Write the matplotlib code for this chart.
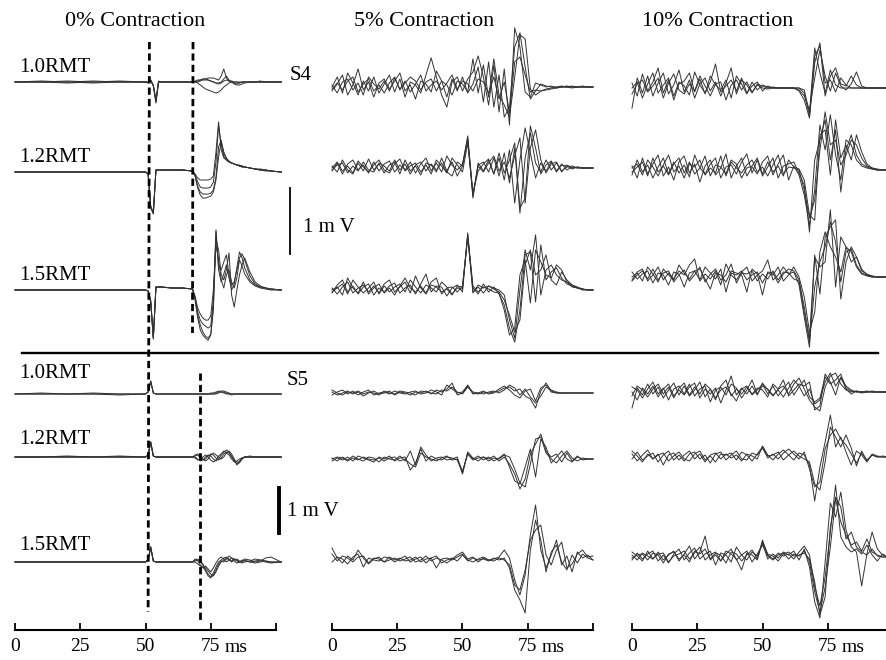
"""MEP traces at rest and under 5% / 10% contraction, subjects S4 and S5."""

import matplotlib.pyplot as plt
import numpy as np
from matplotlib.lines import Line2D

plt.rcParams["font.family"] = ["Liberation Serif", "DejaVu Serif"]

# ---------------------------------------------------------------- data
# amplitudes are in digitiser steps (S4: 15.2 uV, S5: 22.2 uV per step)
STEP_UV = {"S4": 15.2, "S5": 22.2}

# rest (0% contraction) sweeps are stored at irregular knots (ms)
T_REST = [0, 10, 20, 30, 40, 50, 51, 52, 53, 54, 55, 56, 60, 64, 68,
          69, 70, 71, 72, 73, 74, 75, 76, 77, 78, 79, 80, 81, 82, 83, 84, 85, 86, 87, 88,
          90, 92, 94, 96, 98, 102]
# contraction sweeps are sampled every 2 ms from 0 to 100 ms
T_ACTIVE = np.arange(0, 101, 2)

STIMULI = ["1.0RMT", "1.2RMT", "1.5RMT"]
CONDITIONS = ["0% Contraction", "5% Contraction", "10% Contraction"]

s4_rest_10 = [
    [0, 1, 0, -1, 0, 0, -1, 2, -4, -21, 0, 0, 0, 0, 0, 0, 1, 2, 3, 3, 4, 4, 4, 3, 2, 6, 13, 4, 1, 1, 0, 0, -1, 0, 0, 0, 0, 1, 0, 0, 0],
    [0, 0, 1, 0, 0, 0, 0, 1, -3, -19, 0, 0, 0, 0, 0, 0, -1, -3, -5, -7, -8, -9, -10, -11, -10, -8, -5, -3, -1, 0, 0, 0, 0, 0, 0, 0, 0, 0, 0, 0, 0],
    [0, 0, -1, 0, 1, 0, 0, 1, -3, -20, 0, 0, 0, 0, 0, 1, 2, 2, 3, 3, 2, 1, 0, -1, -2, -1, 1, 2, 1, 0, -2, -3, -3, -2, -1, 0, 0, 0, 0, 0, 0],
    [0, 0, 0, 1, 0, 0, -1, 2, -4, -18, 1, 0, 0, 0, 0, 0, 0, 1, 2, 2, 2, 1, 0, -1, -1, 0, 3, 6, 2, 0, -1, -2, -1, 0, 0, 0, 0, 0, 0, 0, 0],
]
s4_rest_12 = [
    [0, 0, 0, 0, 0, 0, -2, -35, -41, 2, 2, 2, 2, 2, 1, -2, -6, -8, -8, -8, -8, -7, -4, 20, 50, 22, 14, 12, 10, 9, 8, 7, 6, 6, 5, 4, 3, 2, 2, 1, 0],
    [0, 0, 0, 0, 0, 0, -2, -34, -40, 2, 2, 2, 2, 2, 1, -3, -10, -15, -16, -16, -16, -15, -10, 10, 46, 28, 15, 12, 10, 9, 8, 7, 7, 6, 5, 4, 3, 3, 2, 1, 0],
    [0, 0, 0, 0, 0, 0, -2, -36, -41, 2, 2, 2, 2, 2, 1, -4, -14, -20, -22, -22, -22, -21, -18, -5, 25, 32, 18, 13, 10, 9, 8, 7, 6, 5, 5, 4, 3, 2, 2, 1, 0],
    [0, 0, 0, 0, 0, 0, -2, -35, -42, 2, 2, 2, 2, 2, 1, -4, -16, -23, -26, -26, -25, -24, -20, -8, 15, 30, 20, 14, 11, 9, 8, 7, 6, 5, 5, 4, 3, 2, 1, 1, 0],
]
s4_rest_15 = [
    [0, 0, 0, 0, 0, 0, -1, -12, -48, 3, 3, 3, 2, 2, 1, -8, -22, -30, -34, -36, -38, -36, -10, 60, 25, 20, 28, 35, 15, 5, 8, 20, 32, 36, 30, 14, 6, 3, 2, 1, 0],
    [0, 0, 0, 0, 0, 0, -1, -10, -47, 3, 3, 3, 2, 2, 1, -10, -28, -40, -45, -48, -50, -45, -20, 50, 40, 15, 10, 20, 37, -5, -17, 0, 15, 25, 32, 18, 8, 4, 2, 1, 0],
    [0, 0, 0, 0, 0, 0, -1, -11, -48, 3, 3, 3, 2, 2, 1, -6, -18, -24, -28, -30, -30, -26, 0, 45, 30, 10, 2, 15, 20, 8, 2, 12, 30, 24, 16, 8, 4, 2, 1, 0, 0],
    [0, 0, 0, 0, 0, 0, -1, -12, -49, 3, 3, 3, 2, 2, 1, -9, -25, -35, -42, -46, -48, -44, -15, 58, 20, 8, 16, 25, 12, 0, 6, 22, 38, 32, 22, 10, 5, 3, 2, 1, 0],
]
s5_rest_10 = [
    [0, 0, 0, 0, 0, 0, 2, 13, 1, 0, 0, 0, 0, 0, 0, 0, 0, 0, 0, 0, 0, 0, 0, 1, 2, 3, 3, 2, 1, 0, 0, 0, 0, 0, 0, 0, 0, 0, 0, 0, 0],
    [0, 1, 0, 0, -1, 0, 2, 13, 1, 0, 0, 0, 0, 0, 0, 0, 0, 0, 0, 0, 0, 1, 1, 2, 3, 2, 1, 0, 0, -1, 0, 0, 0, 0, 0, 0, 0, 0, 0, 0, 0],
    [0, 0, 0, 1, 0, 0, 2, 12, 1, 0, 0, 0, 0, 0, 0, 0, 0, 0, 0, 0, 0, 0, 0, 0, 1, 2, 2, 1, 0, 0, 0, 0, 0, 0, 0, 0, 0, 0, 0, 0, 0],
]
s5_rest_12 = [
    [0, 0, 0, 0, 0, 0, 2, 15, 1, 0, 0, 0, 0, 0, 0, 1, 2, -1, -3, -2, 1, 3, 2, -1, -3, -1, 3, 5, 4, 1, -4, -7, -4, -1, 0, 0, 0, 0, 0, 0, 0],
    [0, 0, 1, 0, 0, 0, 2, 15, 1, 0, 0, 0, 0, 0, 0, 0, -2, -4, -3, 0, 2, 1, -2, -4, -2, 2, 5, 7, 5, 0, -3, -5, -6, -2, 0, 1, 0, 0, 0, 0, 0],
    [0, 0, 0, 0, 0, 0, 2, 14, 1, 0, 0, 0, 0, 0, 0, 2, 3, 1, -2, -4, -2, 2, 4, 2, 0, -2, 0, 4, 6, 3, -2, -8, -5, -2, 0, 0, 0, 0, 0, 0, 0],
    [0, 0, 0, 0, 1, 0, 2, 15, 1, 0, 0, 0, 0, 0, 0, -1, -3, -2, 0, 2, 0, -3, -5, -3, 1, 3, 6, 4, 2, -2, -5, -4, -2, -1, 0, 0, 0, 0, 0, 0, 0],
]
s5_rest_15 = [
    [0, 0, 0, 0, 0, 0, 2, 15, 1, 0, 0, 0, 0, 0, 0, 1, 2, 0, -3, -6, -9, -12, -14, -10, -4, 0, 2, 4, 2, 0, 2, 3, 1, 0, 2, 0, 1, 2, 0, -1, 0],
    [0, 0, 0, 0, 0, 0, 2, 15, 1, 0, 0, 0, 0, 0, 0, 2, 3, 1, -2, -8, -12, -15, -11, -5, 0, 2, 4, 5, 3, 1, 3, 2, 0, -1, 0, 1, 3, 2, 1, 0, 0],
    [0, 0, 0, 0, 0, 0, 2, 14, 1, 0, 0, 0, 0, 0, 0, 0, -2, -4, -6, -4, -7, -10, -6, -1, 3, 5, 3, 0, 2, 4, 3, 1, 0, 1, 3, 2, 0, 1, 4, 5, 0],
    [0, 0, 0, 0, 0, 0, 2, 15, 1, 0, 0, 0, 0, 0, 0, 3, 1, -3, -5, -9, -14, -16, -13, -8, -2, 1, 0, 3, 6, 4, 1, -1, 0, 2, 1, 0, -1, 0, 1, 0, 0],
]

s4_c5_10 = [
    [0, 10, -6, 14, 4, -8, 6, -4, 10, -6, 3, 12, -5, 8, -10, 5, 2, -6, 12, 29, 10, -8, -20, 5, 10, -4, 8, 15, 31, 10, -18, 22, -25, 18, -38, 59, 40, -5, -10, 4, 2, 0, 1, -1, 0, 1, 0, 0, 1, 0, 0],
    [-4, 3, 12, -8, 2, 18, -3, 5, -10, 4, 8, -2, 6, 14, -4, 2, -12, 6, 3, -5, 16, 6, -10, 8, -4, 10, -6, 3, 20, -15, 25, -20, 12, -30, -20, 40, 54, 20, -12, -4, 3, 1, 0, 0, 1, 0, -1, 0, 0, 0, 0],
    [2, -6, 5, 8, -3, 4, -8, 10, 3, -2, 6, -4, 9, -2, 4, 10, 6, -3, 5, 8, -4, 6, 2, -8, 6, 3, -5, 28, -6, 22, -10, 28, -8, -18, -30, 10, 52, 48, -2, -8, -4, -3, -2, -1, 0, 0, 1, 0, 0, 0, 0],
    [-2, 4, -3, 6, 10, -5, 3, 8, -4, 2, -6, 4, 10, -3, 6, -5, 3, 12, -4, 2, 6, -3, 4, 12, -2, 6, 3, -4, 8, 5, -6, 10, -12, 5, -26, 25, 30, 12, -5, -3, -4, -2, -1, 0, 0, 0, 0, 0, 0, 0, 0],
]
s4_c5_12 = [
    [-3, 5, -6, 4, 8, -2, 3, -5, 6, -3, 4, 7, -4, 3, -2, 6, -5, 4, 10, -3, 5, -4, 12, 3, -2, 4, 30, -30, 5, -3, 8, -6, 10, -12, 18, -35, 8, 40, 15, -10, 5, -3, 6, -4, 3, 2, -1, 1, 0, 0, 0],
    [2, -4, 8, -2, -6, 5, -3, 9, -2, 4, -5, 3, 6, -6, 8, -3, 2, -7, 5, 3, -4, 10, -3, 6, -8, 2, 28, -28, 3, 6, -4, 10, -8, 15, -15, 20, -45, 10, 35, 5, -4, 8, -2, 5, -3, 1, 2, 0, 0, 0, 0],
    [0, 6, -3, 2, -5, 7, 1, -4, 3, 8, -2, -5, 4, 9, -3, 2, 5, -4, 3, -6, 8, 2, -5, 10, 3, -4, 25, -25, -3, 4, 9, -6, 15, -5, 8, 25, -40, -30, 42, 20, -6, 3, 7, -3, 4, -2, 1, 0, 0, 0, 0],
    [-2, 3, 5, -5, 2, -3, 6, -2, -4, 5, 2, -3, 8, -2, 4, -6, 3, 6, -3, 4, -2, 5, -4, -8, 6, 2, 32, -26, 2, -4, 5, 12, -3, 6, -10, 12, 30, -35, 20, 38, 8, -5, 4, 6, -4, 3, 0, 1, 0, 0, 0],
]
s4_c5_15 = [
    [2, -4, 3, 8, -3, 2, 5, -2, 4, -3, 6, 10, -2, 3, 8, -3, 14, 2, -4, 5, 3, -2, 1, -5, 4, 3, 55, -3, 5, 2, 4, 2, 0, -5, -30, -48, 0, 40, 20, 55, -5, 20, 25, 15, 10, 8, 5, 3, 1, 0, 0],
    [-3, 5, 10, -2, 4, -4, 3, 6, -5, 2, -2, 4, 7, -3, 2, 5, -4, 6, 16, -2, 4, 3, -6, 2, 5, -2, 57, 2, -4, 6, -2, 3, -4, -15, -38, -52, -20, 35, 38, -12, 45, 10, 18, 22, 12, 6, 4, 2, 1, 0, 0],
    [0, 3, -5, 12, 2, -3, 8, -4, 2, 6, -3, 2, -5, 4, 12, 2, -2, 4, -3, 8, 12, -4, 2, 3, -2, 4, 52, 4, -2, 3, 1, -2, -3, -20, -45, -38, 15, 30, -13, 40, 28, 15, 12, 25, 20, 8, 3, 2, 0, 0, 0],
    [-2, 2, 6, -4, 10, 3, -3, 2, 8, -4, 4, -2, 3, 6, -2, 10, 3, -3, 5, 2, -2, 8, 3, -4, 2, 1, 54, -2, 3, -3, 4, 1, -2, -10, -25, -42, -30, 25, 40, 15, 20, 35, 10, 5, 18, 10, 5, 2, 1, 0, 0],
]
s4_c10_10 = [
    [-20, 10, -5, 12, -8, 5, 15, -6, 3, 18, -4, 8, -10, 4, 10, -3, 6, -8, 5, 20, -6, 8, 3, -5, 4, 2, 0, 1, 0, 0, 0, 0, 0, -2, -25, 40, 15, -5, 18, 3, 0, 0, 0, 0, 0, 0, 0, 0, 0, 0, 0],
    [5, -8, 14, -3, 6, 20, -5, 8, -12, 4, 7, 15, -4, 9, -6, 12, 3, -2, 8, -10, 12, 4, -6, 6, -2, 3, 1, 0, 0, 0, 0, 0, -3, -12, -30, 25, 45, -8, 12, 20, 4, 2, 12, 3, 0, 0, 0, 0, 0, 0, 0],
    [0, 6, -10, 4, 15, -5, 3, 10, -8, 6, 2, -7, 16, 3, -5, 6, 24, -4, 2, 8, -3, 10, -5, 2, 6, -3, 2, 0, 0, 0, 0, 0, -2, -8, -22, 10, 38, 12, -3, 15, 2, -2, 4, 16, 2, 0, 0, 0, 0, 0, 0],
    [-6, 4, 8, -4, 2, 10, -10, 5, 14, -2, -6, 4, -3, 12, 2, -8, 4, 6, -12, 3, 8, -2, 6, -4, 3, 0, -1, 0, 0, 0, 0, 0, 0, -5, -28, 32, 42, 5, 8, -4, 10, 3, 0, 0, 0, 0, 0, 0, 0, 0, 0],
]
s4_c10_12 = [
    [4, -8, 12, -4, 6, 15, -6, 3, -10, 8, 14, -3, 6, -12, 4, 10, -5, 2, 16, -8, 4, 12, -6, 3, -4, 8, 14, -5, 6, 15, -10, 4, -5, -25, -55, -20, 45, 20, 55, 15, -10, 30, 25, 10, 4, 2, 1, 0, 0, 0, 0],
    [-5, 10, -2, 5, -8, 3, 12, -4, 8, -3, 5, -7, 15, 2, -4, 6, 12, -8, 3, 5, -4, 8, 16, -3, 10, -6, 3, 12, -8, 4, 6, 8, -3, -15, -62, 10, 30, 50, 10, 40, -22, 20, 35, 15, 6, 3, 1, 0, 0, 0, 0],
    [2, 6, -5, 10, 3, -6, 5, 15, -2, 4, -8, 6, 3, 10, -5, 2, -3, 14, -6, 8, 2, -3, 5, 10, -2, 3, -6, 5, 15, -4, 3, 2, 0, -20, -48, -30, 20, 58, 25, 30, 5, 15, 30, 25, 12, 4, 2, 0, 0, 0, 0],
    [-2, 3, 8, -6, 12, -2, 4, -5, 6, 12, -3, 8, -4, 2, 14, -6, 5, 3, -4, 10, 6, -8, 2, 4, 12, -4, 8, -2, 4, -6, 10, 3, 1, -10, -45, -50, 35, 40, -5, 50, 12, 25, 10, 35, 18, 6, 2, 1, 0, 0, 0],
]
s4_c10_15 = [
    [-3, 5, 8, -4, 2, 10, -3, 4, -2, 6, 2, 12, 18, -4, 3, -2, 6, -8, 13, 2, -3, 5, 10, -4, 2, 6, 17, -3, 2, 10, 3, 5, -8, -40, -70, 20, 10, 15, 67, -10, 40, 30, 25, 10, 3, 1, 0, 0, 0, 0, 0],
    [5, -2, 3, 6, -6, 4, 2, -8, 5, 3, -10, 4, 6, 8, -2, -12, 4, 2, -5, 6, 4, 2, -15, 8, 3, -18, 5, 4, -6, 3, 8, 6, -3, -30, -62, 22, -17, 40, 50, 57, -22, 15, 30, 20, 8, 2, 1, 0, 0, 0, 0],
    [0, 4, -4, 10, 3, -5, 8, 2, -3, 12, 4, -2, 6, -3, 10, 4, -2, 8, -15, 4, 2, 6, -3, 2, 5, -6, 4, 2, 10, -4, 2, 10, 0, -20, -55, -35, 25, 45, 30, 20, 5, 30, 15, 20, 6, 3, 1, 0, 0, 0, 0],
    [-4, 2, 6, -2, 8, -3, 4, 6, -5, 2, 7, -4, 2, 10, -5, 3, 8, -3, 2, 13, -6, 4, 3, 6, -4, 3, -2, 6, -3, 5, 4, -2, -4, -35, -65, -10, 15, 30, 55, 35, -5, 25, 28, 12, 4, 2, 0, 0, 0, 0, 0],
]

s5_c5_10 = [
    [-2, 1, 3, -1, 2, -2, 1, 3, -2, 0, 1, -1, 2, 0, -1, 1, 2, -1, 0, 3, 1, -2, 8, 4, 0, 1, 8, 0, -1, 1, 0, 1, 2, 5, 6, 2, 4, -3, -6, -15, 2, 10, 2, 0, 0, 0, 0, 0, 0, 0, 0],
    [1, -2, 0, 2, -1, 1, -3, 0, 2, -1, 0, 2, -2, 1, 0, -2, 1, 0, 2, -1, 3, 1, 4, 10, -2, 0, 7, -1, 0, 2, -1, 0, 4, 7, 3, -2, -5, 2, 4, -8, 5, 8, 1, 0, 0, 0, 0, 0, 0, 0, 0],
    [3, 0, -2, 1, 0, 2, -1, 1, 0, -2, 2, 0, -1, 2, 1, 0, -2, 2, 1, 0, -1, 3, 2, 6, 1, -1, 6, 1, 0, -1, 1, 2, 0, 3, 8, 5, -2, 4, -4, -10, -3, 6, 3, 1, 0, 0, 0, 0, 0, 0, 0],
]
s5_c5_12 = [
    [1, -2, 2, -1, 3, 0, -2, 2, 1, -3, 2, 0, -1, 3, -2, 8, -6, 12, 4, -2, 1, 2, -1, 0, 2, -15, 7, 1, -2, 2, 0, 3, -2, 2, -5, -15, -30, -20, 5, 15, 25, 8, 2, 5, -3, 6, -2, 3, -1, 0, 0],
    [-2, 1, -1, 2, -2, 3, 1, -1, -3, 2, 0, 3, -2, 1, 2, -11, -4, 10, -2, 3, 0, -1, 2, 1, -1, -14, 6, 0, 3, -1, 2, -2, 1, 5, -8, -22, -25, -8, 10, -18, 20, 12, -4, 2, 8, 0, -3, 2, 0, 0, 0],
    [0, 2, 1, -2, 1, -1, 2, 0, -1, 1, -2, 1, 2, -2, 0, -5, -8, 6, 2, 0, -2, 1, 3, -1, 0, -12, 5, -1, 1, 2, -2, 1, 0, 4, 2, -10, -24, -28, -5, 20, 22, 6, 0, -4, 3, 8, 1, -2, 1, 0, 0],
]
s5_c5_15 = [
    [12, 2, -3, 4, 0, 10, 2, -4, 1, 3, -2, 0, 2, -1, 1, 3, -2, 0, 4, -1, 2, 0, -3, 1, 5, 8, 1, 3, -2, 2, 0, 1, 3, 10, 2, -20, -35, -15, 25, 55, 10, -8, 5, 20, -5, 4, -12, 8, 2, 5, 0],
    [-2, 3, 1, -4, 3, 6, -7, 2, 0, -1, 3, 2, -2, 1, 4, -2, 1, 3, -3, 2, -8, 1, 2, 0, 3, 6, -1, 2, 0, 1, -1, 2, 0, 2, -8, -30, -40, -53, 10, 40, 20, -12, 8, 15, -2, -10, 5, -3, 6, 2, 0],
    [6, -1, 4, 2, -2, 3, 4, -3, 2, 1, -2, 3, 0, 2, -1, 0, 3, -2, 1, 2, 4, -3, 0, 2, -1, 5, 0, -2, 1, 3, 0, -1, 2, 0, -5, -25, -30, -10, 20, 30, 35, 5, -5, 10, 18, -8, -4, 6, 10, 3, 4],
]
s5_c10_10 = [
    [0, -8, 4, -2, 6, -5, 3, 8, -4, 2, -3, 5, 9, -6, 3, -2, 4, -11, 2, 16, -3, 4, -2, 6, -3, 9, 2, -4, 3, 6, -2, 8, 14, 3, -8, -15, -19, 5, 16, 19, 8, 2, 0, 1, -1, 0, 1, 0, 0, 0, 0],
    [-16, 4, -3, 8, -2, 5, -6, 2, 9, -3, 6, -4, 2, 10, -5, 3, -8, 6, 12, -4, 3, -2, 5, -3, 2, 8, -2, 6, -4, 3, 10, -3, 5, 12, -5, -10, -6, 15, 8, 12, 18, 3, -2, 1, 0, 0, 0, 0, 0, 0, 0],
    [5, 2, -6, 3, 10, -2, 4, -8, 3, 6, -2, 8, -4, 3, 6, -10, 2, 5, -3, 8, 4, -6, 2, 12, -2, 6, 3, -3, 2, -5, 4, 12, 6, -4, 3, -12, -8, 10, 19, 6, 14, 4, 1, 0, 0, 1, 0, 0, 0, 0, 0],
    [-4, 6, 2, -5, 3, 8, -2, 5, -6, 4, 9, -3, 5, -2, 8, 3, -6, 2, 5, -2, -9, 3, 6, -2, 4, 2, -5, 8, 3, 12, -4, 2, 8, 6, 10, -18, -14, 18, 10, -3, 15, 6, 2, 0, 0, 0, 0, 0, 0, 0, 0],
]
s5_c10_12 = [
    [3, -4, 2, 7, -2, 3, -8, 2, 4, -3, 2, 6, -2, 3, -5, 2, 4, -2, 3, -1, 2, -4, 3, 1, -2, 11, 2, -3, 3, 7, 2, -3, 4, 2, -8, -44, -10, 15, 42, 10, 20, 5, -8, 6, 2, -5, 3, 1, 0, 0, 0],
    [-2, 5, -3, 1, 4, -5, 2, 6, -3, 2, -4, 3, 5, -2, 2, -6, 3, 5, -3, 2, 6, -2, -3, 4, 2, 9, -1, 3, -2, 4, 8, 3, -2, 5, -12, -30, -25, 8, 22, 28, 18, 12, 3, -6, 4, -3, 2, 0, 1, 0, 0],
    [6, 1, -5, 3, -2, 2, 4, -4, 1, 5, -2, -4, 3, 6, -3, 1, -5, 3, 2, 4, -3, 5, 2, -4, 3, 10, 1, 2, 5, -3, 2, 6, 1, -2, -5, -27, -33, -5, 30, 20, 10, 22, 9, -9, 6, -4, 2, 0, 0, 0, 0],
]
s5_c10_15 = [
    [2, -3, 4, 1, -2, 5, -3, 2, 6, -4, 3, 11, -2, 5, 21, -3, 2, -4, 6, 3, -2, -13, 4, 2, -3, 17, 2, -2, 4, 1, 3, -2, 5, 11, 2, -30, -49, -20, 25, 72, 20, 10, 5, 8, 3, 12, 2, -4, 3, 0, 0],
    [-3, 4, -2, 3, 6, -4, 2, -6, 3, 8, -3, 4, 9, -2, 3, 6, -8, 4, 2, -5, 10, 2, -3, 5, 1, 14, -2, 3, -1, 5, 2, 6, -3, 8, -10, -45, -61, -5, 54, 40, 65, 27, 10, 5, -29, 3, 25, 8, 2, 0, 0],
    [5, 1, -4, 6, -2, 3, 4, -5, 1, 3, 6, -2, 4, 10, -3, 2, 5, -4, 3, 8, -3, 2, 6, -5, 3, 12, 1, -3, 2, 4, -2, 3, 1, 6, -5, -35, -55, -30, 10, 58, 35, 22, 12, 15, 6, 18, 5, 2, 0, 0, 0],
    [-1, 2, 3, -3, 4, 2, -6, 3, 5, -2, 2, -5, 6, 3, 8, -2, 4, 2, -6, 5, 3, -4, 2, 7, -2, 15, 3, 1, -4, 3, 5, 1, 2, 4, -2, -25, -58, -40, 30, 60, 50, 18, 25, 10, 5, 2, 8, 1, 0, 0, 0],
]

# stimulus / response onset markers (ms) in the rest column
S4_ONSETS = [51.5, 68.2]
S5_ONSETS = [51.0, 70.9]

# ---------------------------------------------------------------- layout
W, H = 886, 660
AXIS_Y = 630                      # pixel row of the time axes
COL_LEFT = [15, 332, 632]         # pixel column of t = 0 ms
COL_WIDTH = 261                   # pixels for 100 ms
PX_PER_MV = {"S4": 66, "S5": 45}
BASELINES = {
    "S4": [[82, 172, 290], [87, 168, 290], [88, 170, 277]],
    "S5": [[394, 457, 562], [393, 459, 560], [392, 457, 557]],
}
PANELS = {
    "S4": [[s4_rest_10, s4_rest_12, s4_rest_15],
           [s4_c5_10, s4_c5_12, s4_c5_15],
           [s4_c10_10, s4_c10_12, s4_c10_15]],
    "S5": [[s5_rest_10, s5_rest_12, s5_rest_15],
           [s5_c5_10, s5_c5_12, s5_c5_15],
           [s5_c10_10, s5_c10_12, s5_c10_15]],
}
TRACE_COLOR = "#333333"


def fx(px):
    return px / W


def fy(py):
    return 1 - py / H


fig = plt.figure(figsize=(W / 100, H / 100), dpi=100)
fig.patch.set_facecolor("white")

axes = []
for col, left in enumerate(COL_LEFT):
    ax = fig.add_axes([fx(left), fy(AXIS_Y), COL_WIDTH / W, AXIS_Y / H])
    ax.set_xlim(0, 100)
    ax.set_ylim(AXIS_Y, 0)       # y in pixels from the top of the figure
    ax.patch.set_alpha(0)
    for side in ("left", "right", "top"):
        ax.spines[side].set_visible(False)
    ax.spines["bottom"].set_linewidth(1.5)
    ax.set_yticks([])
    ax.set_xticks([0, 25, 50, 75, 100])
    ax.set_xticklabels(["0", "25", "50", "75", ""])
    ax.tick_params(axis="x", direction="in", length=5, width=1.3, pad=6, labelsize=14)
    ax.text(80.3, AXIS_Y + 17, "ms", fontsize=14, ha="left", va="center")
    axes.append(ax)

for subj in ("S4", "S5"):
    gain = STEP_UV[subj] / 1000 * PX_PER_MV[subj]
    for col, ax in enumerate(axes):
        t = np.array(T_REST) if col == 0 else T_ACTIVE
        for row, traces in enumerate(PANELS[subj][col]):
            base = BASELINES[subj][col][row]
            for tr in traces:
                ax.plot(t, base - np.array(tr) * gain, color=TRACE_COLOR,
                        lw=0.7, clip_on=False)

# onset markers
dash = dict(color="black", lw=2.0, linestyle=(0, (2.6, 1.5)), clip_on=False)
axes[0].plot([S4_ONSETS[0], S5_ONSETS[0]], [42, 612], **dash)
axes[0].plot([S4_ONSETS[1], S4_ONSETS[1] - 0.2], [42, 333], **dash)
axes[0].plot([S5_ONSETS[1], S5_ONSETS[1]], [373, 620], **dash)

# 1 mV calibration bars
axes[0].plot([105.4, 105.4], [254 - PX_PER_MV["S4"], 254], color="black", lw=1.3, clip_on=False)
axes[0].plot([101.1, 101.1], [533 - PX_PER_MV["S5"], 533], color="black", lw=2.8, clip_on=False)

# separator between subjects
fig.add_artist(Line2D([fx(22), fx(878)], [fy(353), fy(353)], color="black", lw=1.7))

# labels
for title, cx in zip(CONDITIONS, [135, 424, 718]):
    fig.text(fx(cx), fy(21), title, fontsize=16, ha="center", va="center")
for label, py in zip(STIMULI * 2, [68, 158, 275, 374, 440, 545]):
    fig.text(fx(19), fy(py), label, fontsize=15, ha="left", va="center")
fig.text(fx(290), fy(75), "S4", fontsize=15, ha="left", va="center")
fig.text(fx(287), fy(380), "S5", fontsize=15, ha="left", va="center")
fig.text(fx(303), fy(227), "1 m V", fontsize=15, ha="left", va="center")
fig.text(fx(287), fy(512), "1 m V", fontsize=15, ha="left", va="center")

fig.savefig("out.png", dpi=100, facecolor="white")
